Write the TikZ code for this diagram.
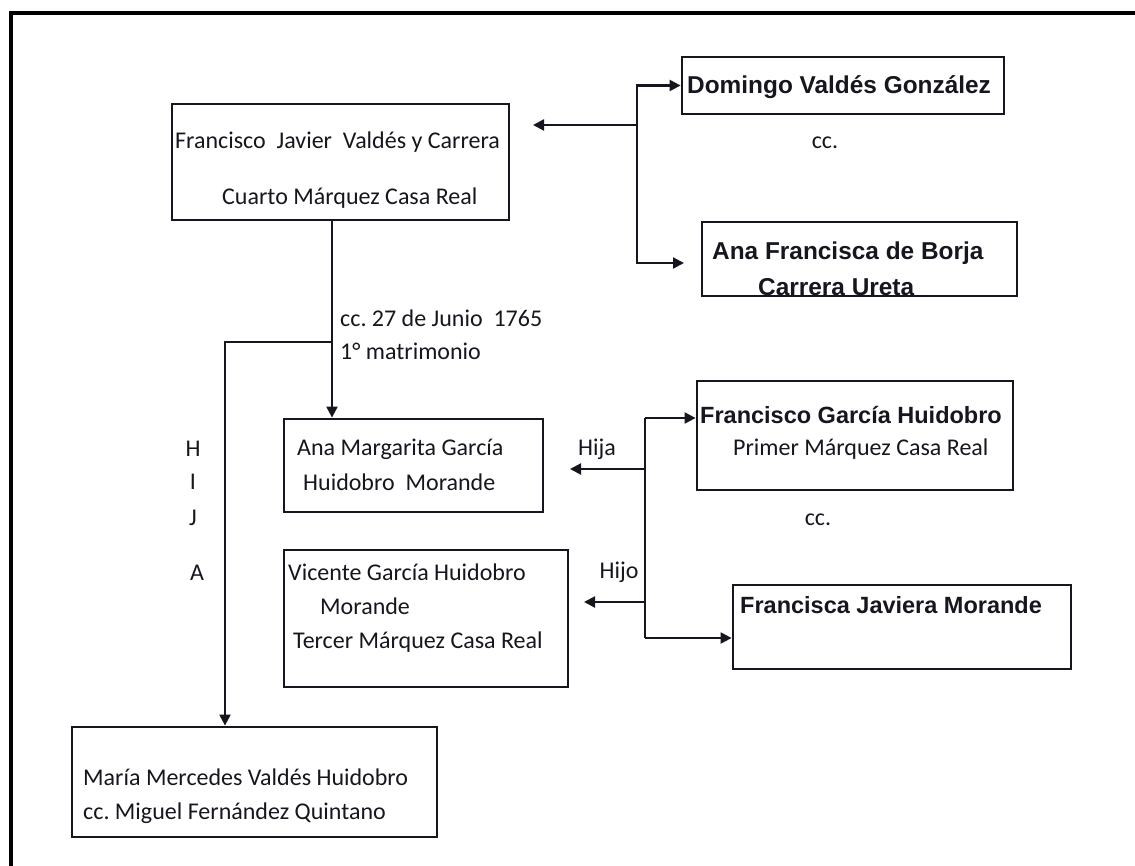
\documentclass[tikz,border=0pt]{standalone}
\usepackage{fontspec}
\setmainfont{Carlito}
\newfontfamily\boldsans{Liberation Sans}[BoldFont={* Bold}]
\usetikzlibrary{arrows.meta,calc}
\definecolor{ink}{HTML}{16161E}
\frenchspacing
\tikzset{
  box/.style={draw=ink, line width=2.8pt, rectangle, inner sep=0pt},
  link/.style={draw=ink, line width=2.2pt},
  arr/.style={link, -{Triangle[length=11pt,width=11pt]}},
  txt/.style={inner sep=0pt, anchor=west, text=ink, font=\fontsize{24}{28}\selectfont},
  btxt/.style={inner sep=0pt, anchor=west, text=ink, font=\boldsans\bfseries\fontsize{23.5}{27}\selectfont},
  bigb/.style={btxt, font=\boldsans\bfseries\fontsize{24.4}{28}\selectfont},
  ctxt/.style={txt, anchor=center}
}
\begin{document}
\begin{tikzpicture}[x=1pt,y=-1pt]
\useasboundingbox (0,0) rectangle (1135,866);
% page frame (top and left rules)
\draw[line width=3.5pt, draw=black] (11,866) -- (11,13) -- (1135,13);

% boxes
\node[box, minimum width=337, minimum height=116] (fjv) at (340.5,162) {};
\node[box, minimum width=322, minimum height=57]  (dom) at (843,85.5) {};
\node[box, minimum width=315, minimum height=74]  (afb) at (859.5,259) {};
\node[box, minimum width=259, minimum height=93]  (amg) at (413.5,465.5) {};
\node[box, minimum width=284, minimum height=137] (vgh) at (426,618.5) {};
\node[box, minimum width=316, minimum height=109] (fgh) at (855,435.5) {};
\node[box, minimum width=338, minimum height=84]  (fjm) at (902,627) {};
\node[box, minimum width=365, minimum height=110] (mmv) at (254.5,782) {};

% box texts
\node[txt] (fjv1) at (175,142) {Francisco\ \ Javier\ \ Valdés y Carrera};
\node[txt] (fjv2) at (222,198) {Cuarto Márquez Casa Real};
\node[bigb] (dom1) at (687,87) {Domingo Valdés González};
\node[bigb] (afb1) at (712,253) {Ana Francisca de Borja};
\node[bigb] (afb2) at (758,287) {Carrera Ureta};
\node[txt] (amg1) at (297,449) {Ana Margarita García};
\node[txt] (amg2) at (303,482) {Huidobro\ \ Morande};
\node[txt] (vgh1) at (288,572) {Vicente García Huidobro};
\node[txt] (vgh2) at (320,606) {Morande};
\node[txt] (vgh3) at (293,642) {Tercer Márquez Casa Real};
\node[btxt] (fgh1) at (700,415) {Francisco García Huidobro};
\node[txt] (fgh2) at (733,449) {Primer Márquez Casa Real};
\node[btxt] (fjm1) at (740,605) {Francisca Javiera Morande};
\node[txt] (mmv1) at (83,777) {María Mercedes Valdés Huidobro};
\node[txt] (mmv2) at (83,813) {cc. Miguel Fernández Quintano};

% free labels
\node[ctxt] (cc1) at (825,143) {cc.};
\node[ctxt] (cc2) at (818,520) {cc.};
\node[txt] (mat1) at (340,318) {cc. 27 de Junio\ \ 1765};
\node[txt] (mat2) at (340,351) {1° matrimonio};
\node[ctxt] (hija) at (597,449) {Hija};
\node[ctxt] (hijo) at (619,572) {Hijo};
\node[ctxt] (lh) at (193,449) {H};
\node[ctxt] (li) at (193,482) {I};
\node[ctxt] (lj) at (193,518) {J};
\node[ctxt] (la) at (197,573) {A};

% junctions and free arrow ends
\coordinate (jt)  at (637,125);
\coordinate (tl)  at (533,125);
\coordinate (tb)  at (684,263);
\coordinate (jm)  at (332,342);
\coordinate (jl)  at (225,342);
\coordinate (jr1) at (645,418);
\coordinate (jr2) at (645,638);
\coordinate (ta)  at (570,469);
\coordinate (tv)  at (584,602);

% parents of Francisco Javier
\draw[arr] (jt) -- (tl);
\draw[arr] (jt) |- (dom.west);
\draw[arr] (jt) |- (tb);

% marriage and daughter
\draw[arr] (fjv.south -| jm) -- (amg.north -| jm);
\draw[arr] (jm) -- (jl) -- (mmv.north -| jl);

% García Huidobro family
\draw[link] (jr1) -- (jr2);
\draw[arr] (jr1) -- (fgh.west |- jr1);
\draw[arr] (jr2) -- (fjm.west |- jr2);
\draw[arr] (ta -| jr1) -- (ta);
\draw[arr] (tv -| jr1) -- (tv);
\end{tikzpicture}
\end{document}
